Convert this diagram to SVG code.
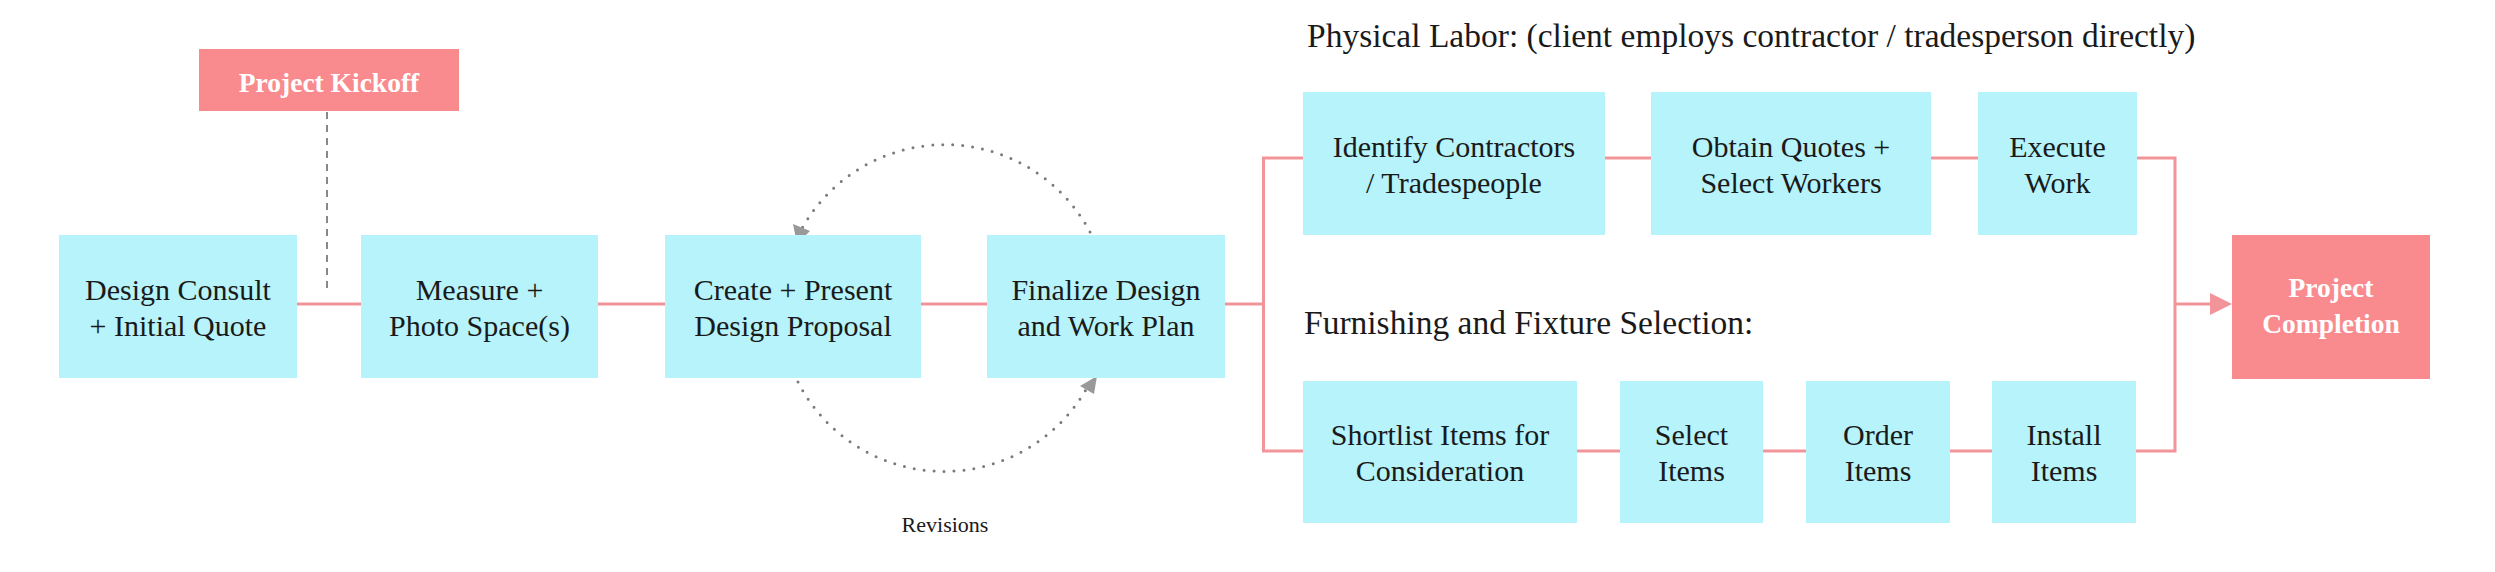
<svg xmlns="http://www.w3.org/2000/svg" width="2495" height="572" viewBox="0 0 2495 572">
<defs>
<style>
.box{fill:#b6f3fb}
.hot{fill:#f98b8e}
.t{font-family:"Liberation Serif",serif;font-size:30px;fill:#1a1a1a;text-anchor:middle}
.tb{font-family:"Liberation Serif",serif;font-size:27.5px;font-weight:bold;fill:#ffffff;text-anchor:middle}
.h{font-family:"Liberation Serif",serif;font-size:33.5px;fill:#1a1a1a}
.c{fill:none;stroke:#f2959a;stroke-width:3}
.dot{fill:none;stroke:#7a7a7a;stroke-width:3;stroke-linecap:round;stroke-dasharray:0 10}
</style>
</defs>
<rect width="2495" height="572" fill="#ffffff"/>

<g id="connectors">
<line x1="327" y1="112" x2="327" y2="293" stroke="#888888" stroke-width="2" stroke-dasharray="7 6"/>
<line class="c" x1="296" y1="304" x2="361" y2="304"/>
<line class="c" x1="598" y1="304" x2="665" y2="304"/>
<line class="c" x1="920" y1="304" x2="987" y2="304"/>
<polyline class="c" points="1225,304 1263.5,304"/>
<polyline class="c" points="1303,158 1263.5,158 1263.5,451 1303,451"/>
<line class="c" x1="1605" y1="158" x2="1651" y2="158"/>
<line class="c" x1="1931" y1="158" x2="1978" y2="158"/>
<polyline class="c" points="2137,158 2175,158 2175,451 2136,451"/>
<line class="c" x1="1577" y1="451" x2="1620" y2="451"/>
<line class="c" x1="1763" y1="451" x2="1806" y2="451"/>
<line class="c" x1="1950" y1="451" x2="1992" y2="451"/>
<line class="c" x1="2175" y1="304" x2="2213" y2="304"/>
<path d="M2210,293 L2232,304 L2210,315 Z" fill="#f2959a"/>
<path class="dot" d="M1090,232 A164,164 0 0 0 800,232"/>
<path d="M793,224 L810,231 L797,244 Z" fill="#999999"/>
<path class="dot" d="M798,382 A164,164 0 0 0 1088,386"/>
<path d="M1097,376 L1094,394 L1080,386 Z" fill="#999999"/>
</g>

<g id="kickoff">
<rect class="hot" x="199" y="49" width="260" height="62"/>
<text class="tb" x="329" y="92">Project Kickoff</text>
</g>
<g id="consult">
<rect class="box" x="59" y="235" width="238" height="143"/>
<text class="t" x="178" y="300">Design Consult</text>
<text class="t" x="178" y="336">+ Initial Quote</text>
</g>
<g id="measure">
<rect class="box" x="361" y="235" width="237" height="143"/>
<text class="t" x="479.5" y="300">Measure +</text>
<text class="t" x="479.5" y="336">Photo Space(s)</text>
</g>
<g id="create">
<rect class="box" x="665" y="235" width="256" height="143"/>
<text class="t" x="793" y="300">Create + Present</text>
<text class="t" x="793" y="336">Design Proposal</text>
</g>
<g id="finalize">
<rect class="box" x="987" y="235" width="238" height="143"/>
<text class="t" x="1106" y="300">Finalize Design</text>
<text class="t" x="1106" y="336">and Work Plan</text>
</g>

<g id="label-physical">
<text class="h" x="1307" y="47">Physical Labor: (client employs contractor / tradesperson directly)</text>
</g>
<g id="identify">
<rect class="box" x="1303" y="92" width="302" height="143"/>
<text class="t" x="1454" y="157">Identify Contractors</text>
<text class="t" x="1454" y="193">/ Tradespeople</text>
</g>
<g id="obtain">
<rect class="box" x="1651" y="92" width="280" height="143"/>
<text class="t" x="1791" y="157">Obtain Quotes +</text>
<text class="t" x="1791" y="193">Select Workers</text>
</g>
<g id="execute">
<rect class="box" x="1978" y="92" width="159" height="143"/>
<text class="t" x="2057.5" y="157">Execute</text>
<text class="t" x="2057.5" y="193">Work</text>
</g>

<g id="label-furnishing">
<text class="h" x="1304" y="334">Furnishing and Fixture Selection:</text>
</g>
<g id="shortlist">
<rect class="box" x="1303" y="381" width="274" height="142"/>
<text class="t" x="1440" y="445">Shortlist Items for</text>
<text class="t" x="1440" y="481">Consideration</text>
</g>
<g id="select">
<rect class="box" x="1620" y="381" width="143" height="142"/>
<text class="t" x="1691.5" y="445">Select</text>
<text class="t" x="1691.5" y="481">Items</text>
</g>
<g id="order">
<rect class="box" x="1806" y="381" width="144" height="142"/>
<text class="t" x="1878" y="445">Order</text>
<text class="t" x="1878" y="481">Items</text>
</g>
<g id="install">
<rect class="box" x="1992" y="381" width="144" height="142"/>
<text class="t" x="2064" y="445">Install</text>
<text class="t" x="2064" y="481">Items</text>
</g>

<g id="completion">
<rect class="hot" x="2232" y="235" width="198" height="144"/>
<text class="tb" x="2331" y="297">Project</text>
<text class="tb" x="2331" y="333">Completion</text>
</g>

<g id="revisions-label">
<text x="945" y="532" font-family="Liberation Serif, serif" font-size="22" fill="#1a1a1a" text-anchor="middle">Revisions</text>
</g>
</svg>
